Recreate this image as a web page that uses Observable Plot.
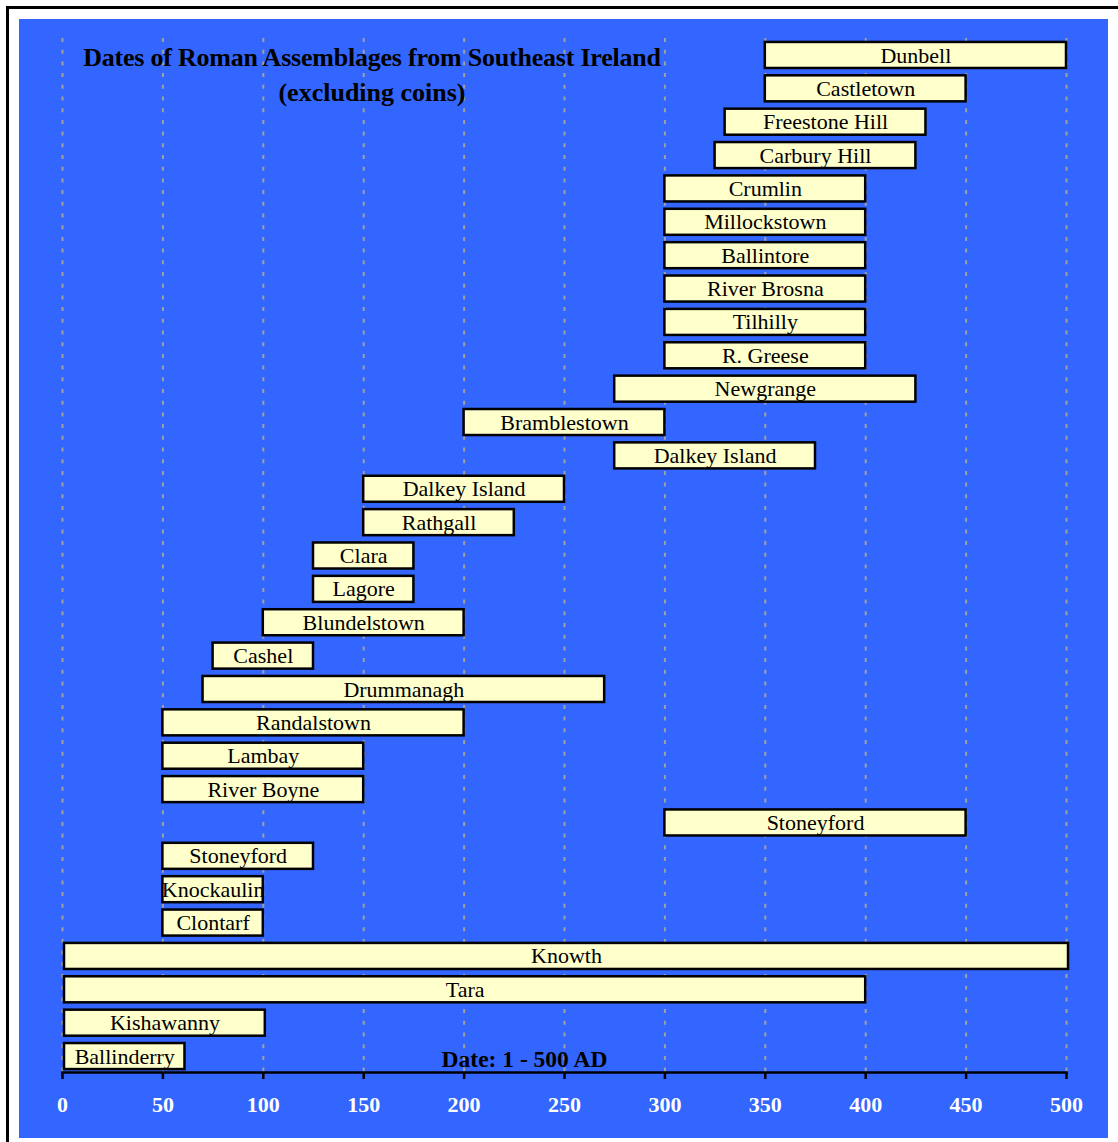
<!DOCTYPE html>
<html>
<head>
<meta charset="utf-8">
<script src="https://cdn.jsdelivr.net/npm/d3@7"></script>
<script src="https://cdn.jsdelivr.net/npm/@observablehq/plot@0.6"></script>
<style>
  html, body { margin: 0; padding: 0; background: #ffffff; }
  #wrap { position: relative; width: 1118px; height: 1142px; overflow: hidden; }
  #frame { position: absolute; left: 6px; top: 6px; width: 1300px; height: 1300px;
           border-left: 3px solid #000; border-top: 3px solid #000; background: #fff; }
  #blue { position: absolute; left: 19px; top: 19px; width: 1089px; height: 1119px; background: #3366FF; }
  #chart { position: absolute; left: 0; top: 0; }
  #title { position: absolute; left: 72px; width: 600px; top: 40px; text-align: center;
           font-family: "Liberation Serif", serif; font-weight: bold; font-size: 26px;
           line-height: 35px; color: #000; }
  #title .l1 { letter-spacing: -0.22px; }
</style>
</head>
<body>
<div id="wrap">
  <div id="frame"></div>
  <div id="blue"></div>
  <div id="chart"></div>
  <div id="title"><span class="l1">Dates of Roman Assemblages from Southeast Ireland</span><br>(excluding coins)</div>
</div>
<script>
const names = ["Dunbell","Castletown","Freestone Hill","Carbury Hill","Crumlin","Millockstown","Ballintore","River Brosna","Tilhilly","R. Greese","Newgrange","Bramblestown","Dalkey Island","Dalkey Island","Rathgall","Clara","Lagore","Blundelstown","Cashel","Drummanagh","Randalstown","Lambay","River Boyne","Stoneyford","Stoneyford","Knockaulin","Clontarf","Knowth","Tara","Kishawanny","Ballinderry"];
const starts = [350,350,330,325,300,300,300,300,300,300,275,200,275,150,150,125,125,100,75,70,50,50,50,300,50,50,50,1,1,1,1];
const ends   = [500,450,430,425,400,400,400,400,400,400,425,300,375,250,225,175,175,200,125,270,200,150,150,450,125,100,100,501,400,101,61];
const xTicks = [0,50,100,150,200,250,300,350,400,450,500];
const axisLabel = "Date: 1 - 500 AD";

const data = names.map((n, i) => ({row: i, name: n, start: starts[i], end: ends[i]}));
const serif = "Liberation Serif, Times New Roman, serif";

const chart = Plot.plot({
  width: 1118, height: 1142,
  marginLeft: 62, marginRight: 52, marginTop: 38, marginBottom: 70,
  style: {background: "transparent", overflow: "visible"},
  x: {domain: [0, 500], ticks: xTicks},
  y: {type: "band", domain: d3.range(names.length), range: [34.6, 1076.4], padding: 0.22, round: false, axis: null},
  marks: [
    Plot.gridX(xTicks, {stroke: "#A0A0A0", strokeOpacity: 1, strokeWidth: 2, strokeDasharray: "4,7.7"}),
    Plot.barX(data, {x1: "start", x2: "end", y: "row", fill: "#FFFFCC", stroke: "#000", strokeWidth: 2.5}),
    Plot.text(data, {x: d => (d.start + d.end) / 2, y: "row", text: "name", fontFamily: serif, fontSize: 22, fill: "#000"}),
    Plot.frame({anchor: "bottom", stroke: "#000", strokeWidth: 2.5}),
    Plot.axisX(xTicks, {tickSize: 7, tickPadding: 17, stroke: "#000", strokeWidth: 2.5, fill: "#fff",
      fontFamily: serif, fontWeight: "bold", fontSize: 22, label: null}),
    Plot.text([axisLabel], {frameAnchor: "bottom", dx: -40, dy: -6, fontFamily: serif, fontWeight: "bold", fontSize: 23.5, fill: "#000"})
  ]
});
document.getElementById("chart").appendChild(chart);
</script>
</body>
</html>
